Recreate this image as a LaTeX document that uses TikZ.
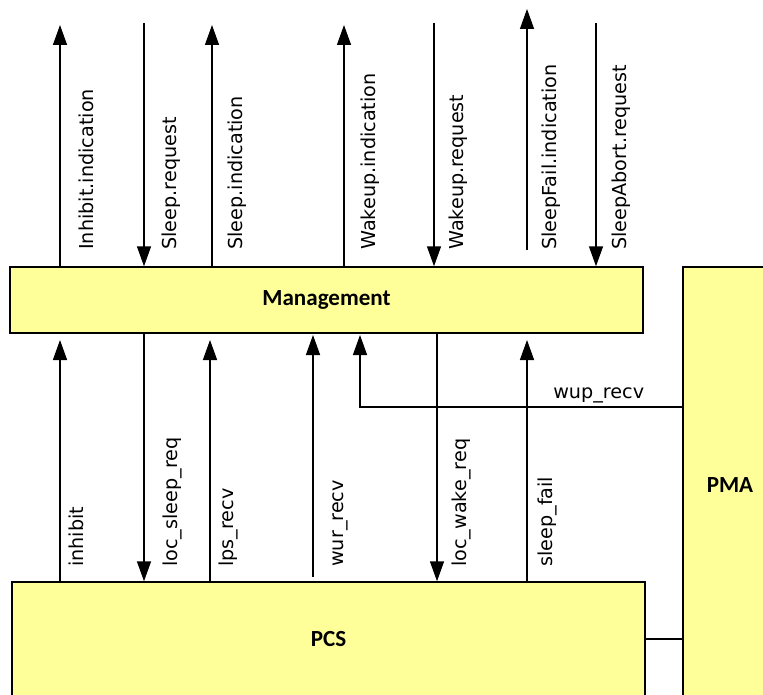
\documentclass[tikz,border=0pt]{standalone}
\usepackage{fontspec}
\setmainfont{DejaVu Sans}
\newfontfamily\blockfont{Carlito}
\usetikzlibrary{arrows.meta, calc, positioning}
\definecolor{blockyellow}{RGB}{255,255,153}

\begin{document}
\begin{tikzpicture}[x=0.75pt, y=-0.75pt,
  block/.style={draw, fill=blockyellow, line width=1.1pt, inner sep=0pt,
    font=\blockfont\bfseries\fontsize{17.3}{20}\selectfont},
  sig/.style={line width=1.1pt, -{Triangle[length=15pt, width=10.5pt]}},
  signame/.style={rotate=90, anchor=base west, inner sep=0pt,
    font=\fontsize{14.4}{17}\selectfont}]

\useasboundingbox (0,0) rectangle (763,695);

% Blocks
\node[block, minimum width=474.75pt, minimum height=49.5pt] (mgmt) at (326.5,300) {Management};
\node[block, minimum width=474.75pt, minimum height=86.25pt] (pcs) at (328.5,639.5) {PCS};
\node[block, minimum width=70.5pt, minimum height=327pt] (pma) at (730,485) {PMA};

% PCS - PMA link
\coordinate (lnk) at (0,639);
\draw[line width=1.1pt] (pcs.east |- lnk) -- (pma.west |- lnk);

% Management primitives (free ends)
\coordinate (inhInd) at (60,25);
\coordinate (slpReq) at (144,23);
\coordinate (slpInd) at (212,25);
\coordinate (wakInd) at (344,25);
\coordinate (wakReq) at (434,23);
\coordinate (sfInd0) at (527,250);
\coordinate (sfInd1) at (527,9);
\coordinate (abtReq) at (596,23);

\draw[sig] (mgmt.north -| inhInd) -- (inhInd);
\draw[sig] (slpReq) -- (mgmt.north -| slpReq);
\draw[sig] (mgmt.north -| slpInd) -- (slpInd);
\draw[sig] (mgmt.north -| wakInd) -- (wakInd);
\draw[sig] (wakReq) -- (mgmt.north -| wakReq);
\draw[sig] (sfInd0) -- (sfInd1);
\draw[sig] (abtReq) -- (mgmt.north -| abtReq);

\node[signame] (tInhInd) at (93,250) {Inhibit.indication};
\node[signame] (tSlpReq) at (176,250) {Sleep.request};
\node[signame] (tSlpInd) at (242,250) {Sleep.indication};
\node[signame] (tWakInd) at (375,250) {Wakeup.indication};
\node[signame] (tWakReq) at (463,250) {Wakeup.request};
\node[signame] (tSfInd) at (556,250) {SleepFail.indication};
\node[signame] (tAbtReq) at (626,250) {SleepAbort.request};

% PCS <-> Management signals
\coordinate (inh) at (60,340);
\coordinate (lsr) at (144,0);
\coordinate (lps) at (210,340);
\coordinate (wur0) at (313,577);
\coordinate (wur1) at (313,335);
\coordinate (wup) at (360,407);
\coordinate (wupTip) at (360,335);
\coordinate (lwr) at (437,0);
\coordinate (sfl) at (527,340);

\draw[sig] (pcs.north -| inh) -- (inh);
\draw[sig] (mgmt.south -| lsr) -- (pcs.north -| lsr);
\draw[sig] (pcs.north -| lps) -- (lps);
\draw[sig] (wur0) -- (wur1);
\draw[sig] (pma.west |- wup) -| (wupTip);
\draw[sig] (mgmt.south -| lwr) -- (pcs.north -| lwr);
\draw[sig] (pcs.north -| sfl) -- (sfl);

\node[signame] (bInh) at (83,567) {inhibit};
\node[signame] (bLsr) at (177,567) {loc\_sleep\_req};
\node[signame] (bLps) at (233,567) {lps\_recv};
\node[signame] (bWur) at (343,567) {wur\_recv};
\node[signame] (bLwr) at (466,567) {loc\_wake\_req};
\node[signame] (bSfl) at (552,567) {sleep\_fail};
\node[signame, rotate=-90] (bWup) at (553,398) {wup\_recv};

\end{tikzpicture}
\end{document}
